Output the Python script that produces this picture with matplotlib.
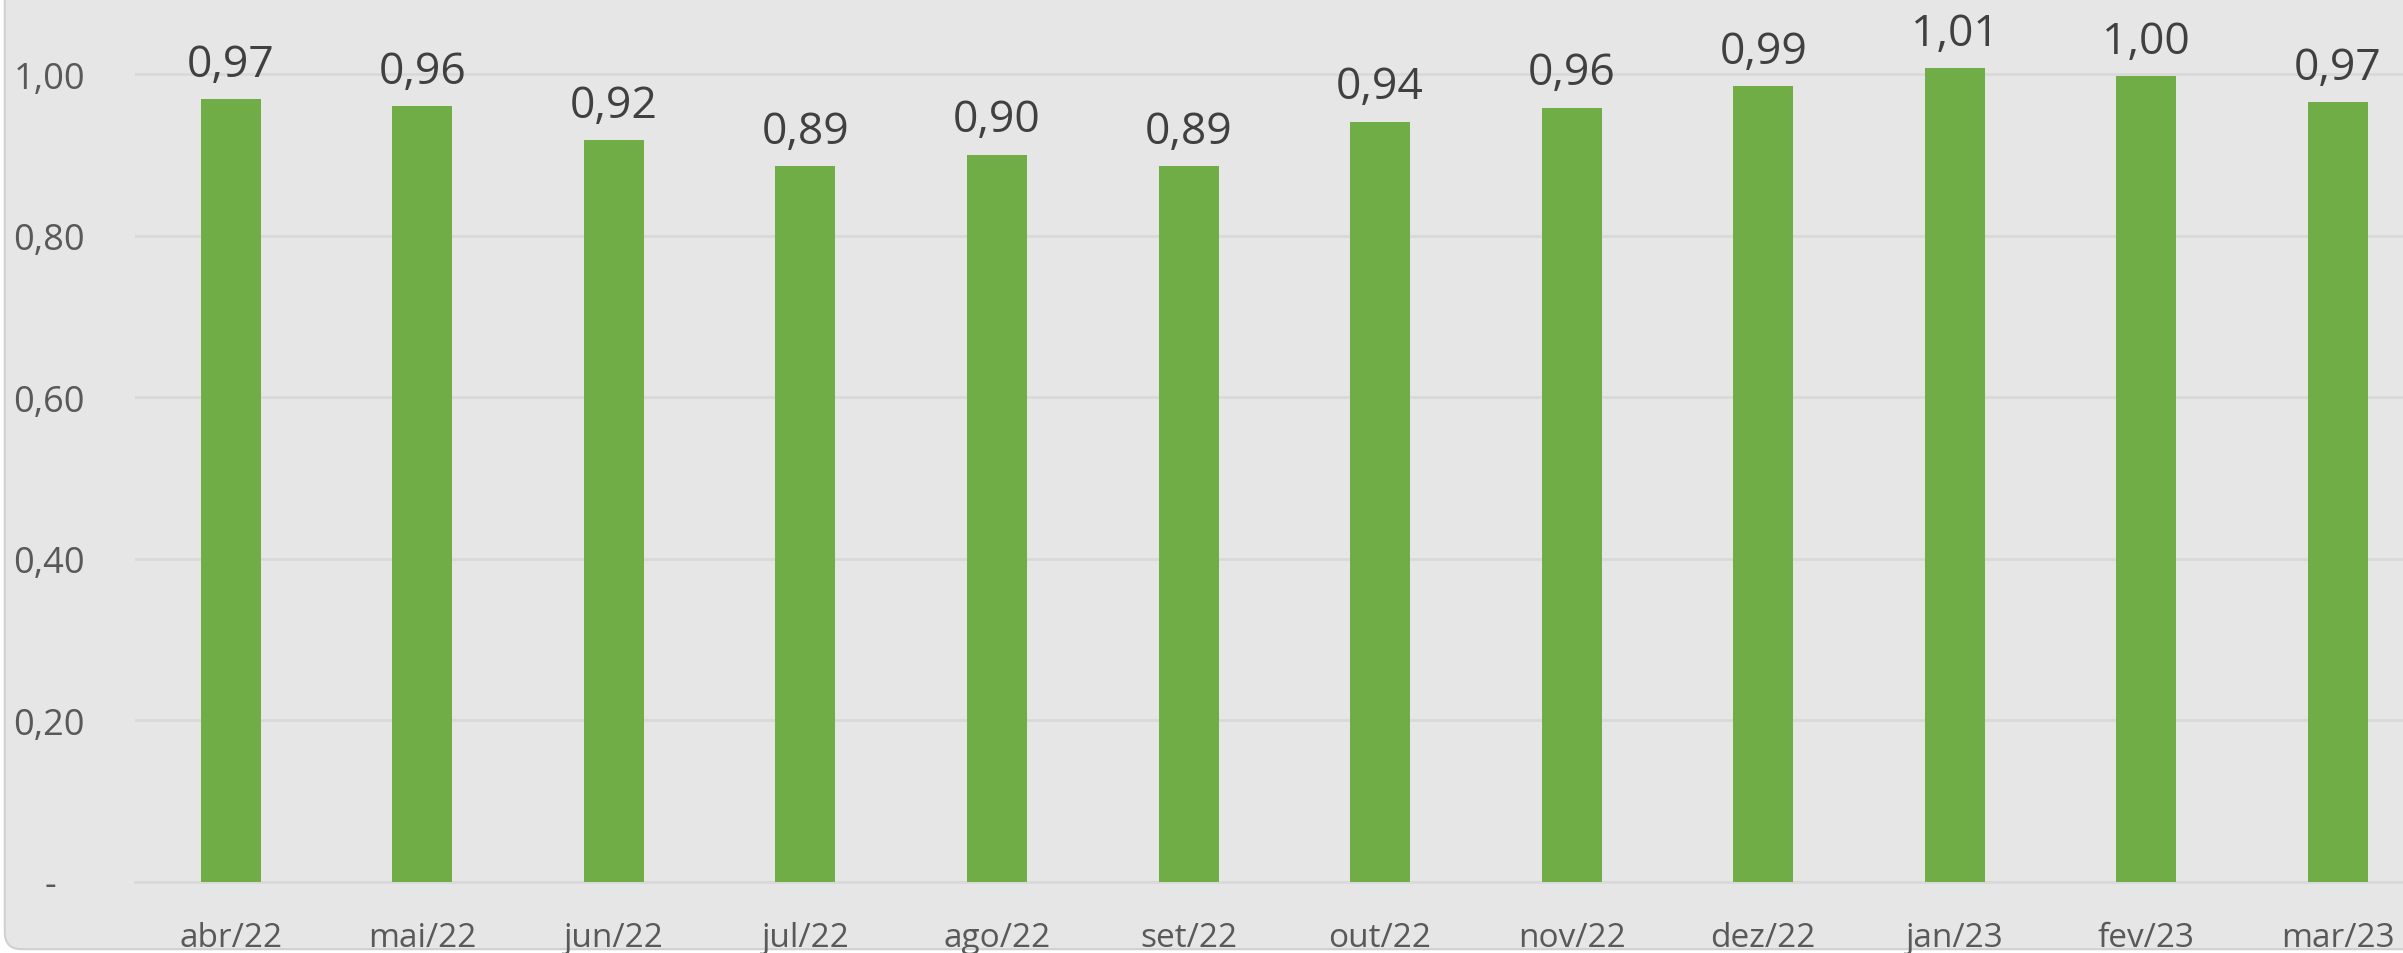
import matplotlib
matplotlib.use("Agg")
import matplotlib.pyplot as plt
from matplotlib.patches import FancyBboxPatch

# monthly values
months = ["abr/22", "mai/22", "jun/22", "jul/22", "ago/22", "set/22",
          "out/22", "nov/22", "dez/22", "jan/23", "fev/23", "mar/23"]
values = [0.969, 0.960, 0.918, 0.886, 0.900, 0.886,
          0.941, 0.958, 0.985, 1.007, 0.997, 0.965]
labels = ["0,97", "0,96", "0,92", "0,89", "0,90", "0,89",
          "0,94", "0,96", "0,99", "1,01", "1,00", "0,97"]
yticks = [0.0, 0.2, 0.4, 0.6, 0.8, 1.0]
ytick_labels = ["-   ", "0,20", "0,40", "0,60", "0,80", "1,00"]

plt.rcParams['font.family'] = ['Open Sans', 'DejaVu Sans']

W, H = 2403, 954
fig = plt.figure(figsize=(W / 100, H / 100), dpi=100, facecolor="white")

# chart area background with rounded lower-left corner
bg = FancyBboxPatch((0.002, 0.004), 1.2, 1.2, boxstyle="round,pad=0,rounding_size=0.007",
                    transform=fig.transFigure, facecolor="#e6e6e6",
                    edgecolor="#d0d0d0", linewidth=1.5, mutation_aspect=W / H, zorder=-10)
fig.patches.append(bg)

ax = fig.add_axes([135 / W, 1 - 883 / H, 1 - 135 / W, 883 / H])
ax.set_facecolor("none")
ax.set_zorder(5)

x = list(range(len(months)))
ax.bar(x, values, width=0.313, color="#70ad47", zorder=3)

for xi, v, lab in zip(x, values, labels):
    ax.annotate(lab, (xi, v), xytext=(0, 9), textcoords="offset points",
                ha="center", va="bottom", fontsize=32, color="#404040",
                clip_on=False, zorder=4)

ax.set_xlim(-0.5, 11.34)
ax.set_ylim(0, 883 / 808)
ax.set_yticks(yticks)
ax.set_yticklabels(ytick_labels)
ax.set_xticks(x)
ax.set_xticklabels(months)
ax.tick_params(axis="both", length=0, labelsize=24, colors="#595959")
ax.tick_params(axis="y", pad=36, labelsize=26)
ax.tick_params(axis="x", pad=28)

ax.grid(axis="y", color="#d9d9d9", linewidth=2, zorder=1)
ax.set_axisbelow(True)
for s in ["top", "right", "left"]:
    ax.spines[s].set_visible(False)
ax.spines["bottom"].set_color("#d9d9d9")
ax.spines["bottom"].set_linewidth(2)

fig.savefig("out.png", dpi=100, facecolor="white")
